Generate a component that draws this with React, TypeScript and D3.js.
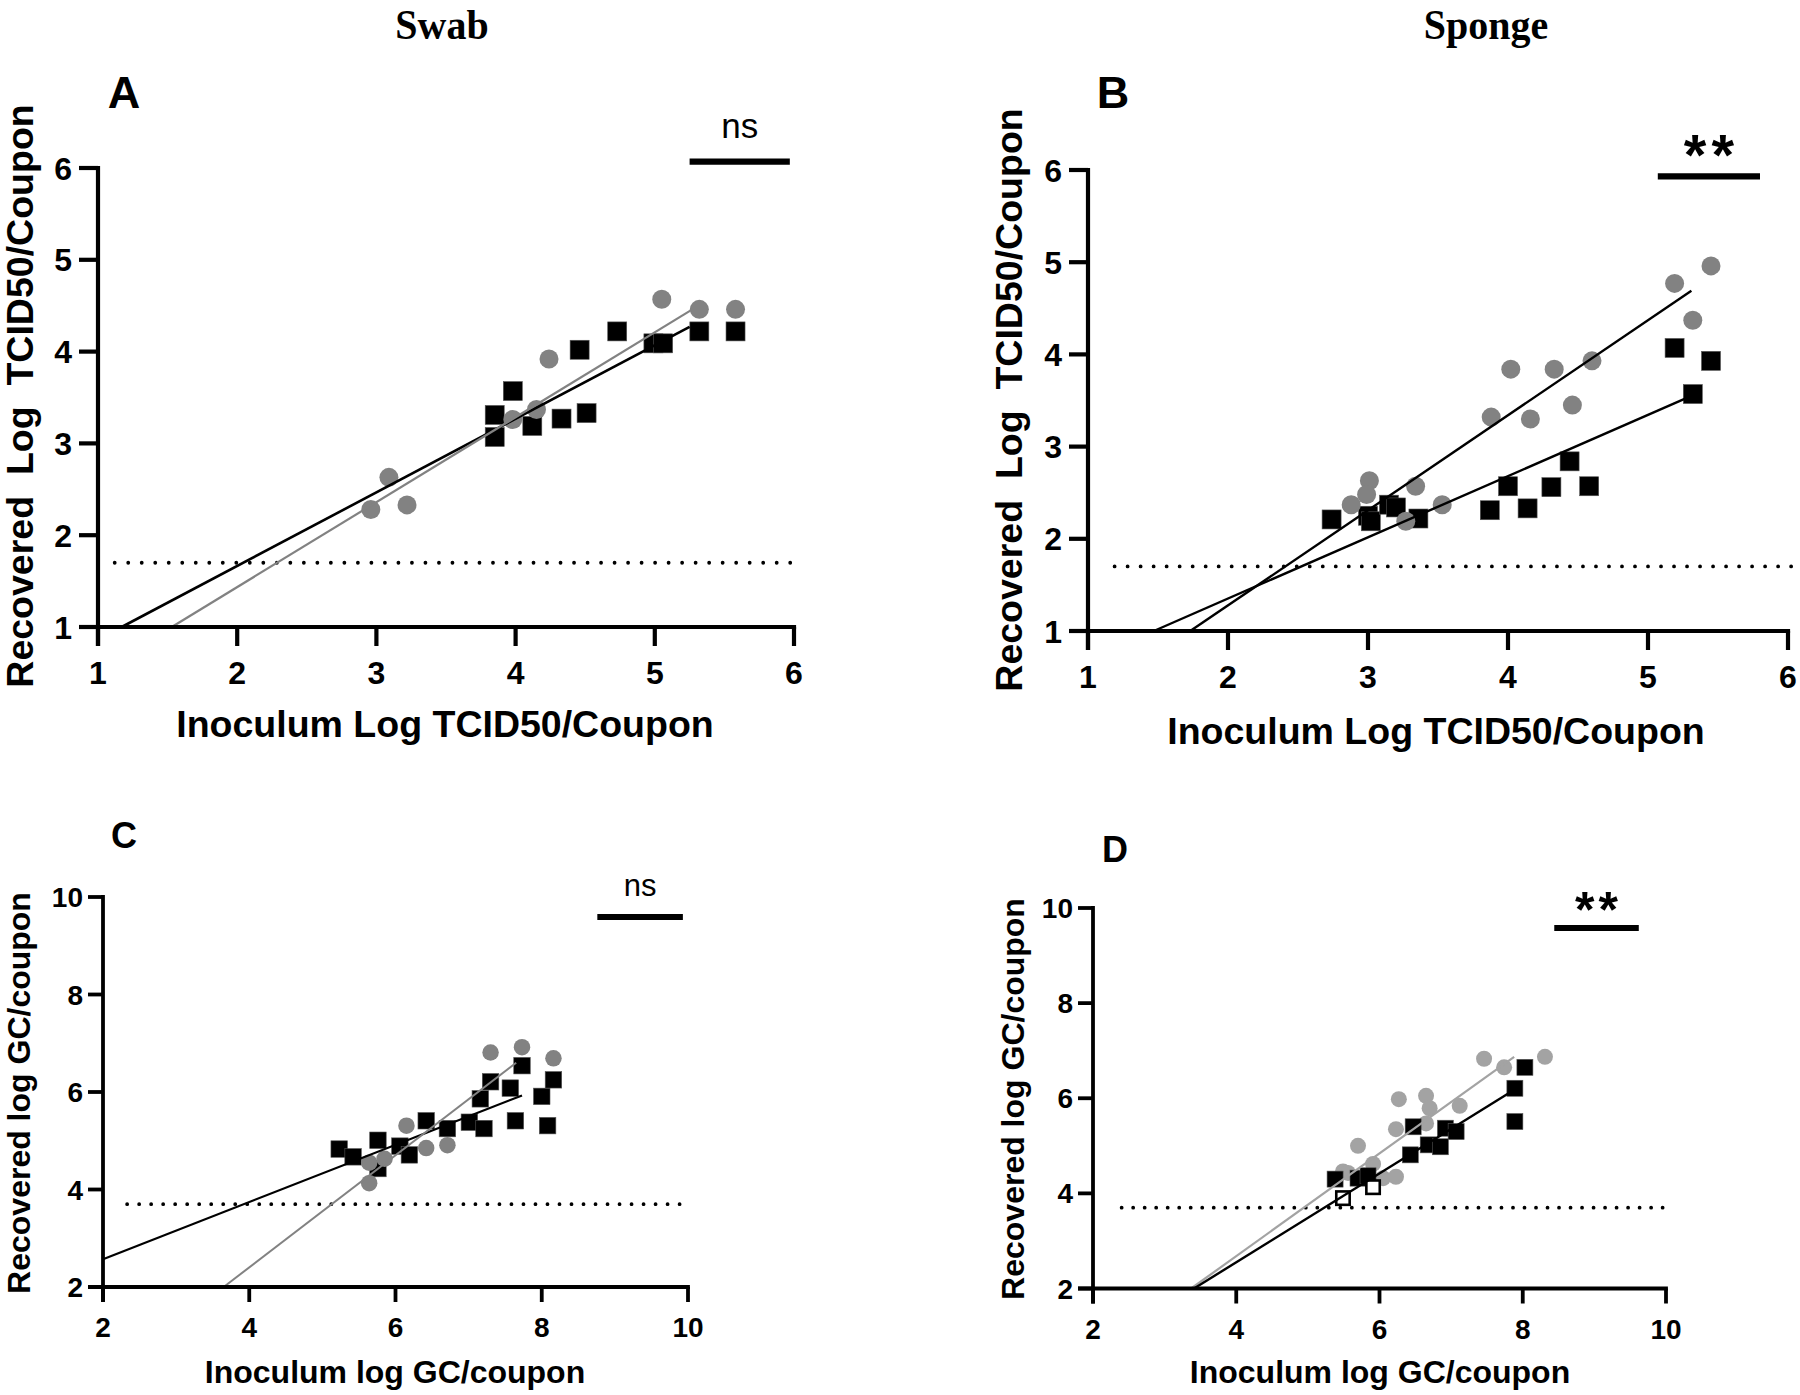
import React from 'react';
import * as d3 from 'd3';

// ---------- Panel A (Swab, TCID50) ----------
const aCirclesX = [2.96, 3.09, 3.22, 3.98, 4.15, 4.24, 5.05, 5.32, 5.58];
const aCirclesY = [2.28, 2.63, 2.33, 3.26, 3.37, 3.92, 4.57, 4.46, 4.46];
const aSquaresX = [3.85, 3.85, 3.98, 4.12, 4.33, 4.51, 4.46, 4.73, 4.99, 5.06, 5.32, 5.58];
const aSquaresY = [3.07, 3.31, 3.57, 3.19, 3.27, 3.33, 4.02, 4.22, 4.09, 4.09, 4.22, 4.22];
const aFitSquares = [[1.17, 1.0], [5.25, 4.27]];
const aFitCircles = [[1.53, 1.0], [5.27, 4.46]];

// ---------- Panel B (Sponge, TCID50) ----------
const bCirclesX = [2.88, 3.01, 2.99, 3.34, 3.27, 3.53, 3.88, 4.02, 4.16, 4.33, 4.46, 4.6, 5.19, 5.32, 5.45];
const bCirclesY = [2.37, 2.63, 2.48, 2.57, 2.19, 2.37, 3.32, 3.84, 3.3, 3.84, 3.45, 3.93, 4.77, 4.37, 4.96];
const bSquaresX = [2.74, 3.0, 3.02, 3.15, 3.2, 3.36, 3.87, 4.0, 4.14, 4.31, 4.44, 4.58, 5.19, 5.32, 5.45];
const bSquaresY = [2.21, 2.25, 2.19, 2.37, 2.34, 2.22, 2.31, 2.57, 2.33, 2.56, 2.84, 2.57, 4.07, 3.57, 3.93];
const bFitCircles = [[1.73, 1.0], [5.31, 4.69]];
const bFitSquares = [[1.47, 1.0], [5.31, 3.55]];

// ---------- Panel C (Swab, GC) ----------
const cCirclesX = [5.64, 5.64, 5.85, 6.15, 6.42, 6.71, 7.3, 7.73, 8.16];
const cCirclesY = [4.13, 4.55, 4.63, 5.31, 4.85, 4.91, 6.81, 6.92, 6.69];
const cSquaresX = [5.23, 5.42, 5.76, 5.76, 6.06, 6.19, 6.42, 6.71, 7.01, 7.21, 7.16, 7.3, 7.57, 7.64, 7.73, 8.0, 8.08, 8.16];
const cSquaresY = [4.83, 4.67, 4.43, 5.01, 4.89, 4.71, 5.41, 5.25, 5.38, 5.25, 5.86, 6.21, 6.08, 5.41, 6.54, 5.91, 5.31, 6.25];
const cFitSquares = [[2.0, 2.57], [7.73, 5.93]];
const cFitCircles = [[3.65, 2.0], [7.65, 6.6]];

// ---------- Panel D (Sponge, GC) ----------
const dCirclesX = [5.49, 5.56, 5.7, 5.91, 6.05, 6.23, 6.23, 6.27, 6.65, 6.7, 6.65, 7.12, 7.46, 7.74, 8.31];
const dCirclesY = [4.46, 4.43, 5.0, 4.62, 4.32, 4.35, 5.35, 5.98, 6.05, 5.79, 5.47, 5.84, 6.83, 6.65, 6.87];
const dSquaresX = [5.38, 5.7, 5.84, 6.43, 6.47, 6.68, 6.85, 6.92, 7.07, 7.89, 7.89, 8.03];
const dSquaresY = [4.3, 4.32, 4.37, 4.81, 5.4, 5.02, 4.98, 5.37, 5.3, 5.51, 6.21, 6.65];
const dOpenX = [5.49, 5.91];
const dOpenY = [3.9, 4.13];
const dFitCircles = [[3.37, 2.0], [7.88, 6.87]];
const dFitSquares = [[3.41, 2.0], [7.82, 6.12]];

// ---------- Axes / annotations ----------
const tcidTicks = [1, 2, 3, 4, 5, 6];
const gcTicks = [2, 4, 6, 8, 10];
const tcidLOD = 1.7;
const gcLOD = 3.7;
const columnTitles = ['Swab', 'Sponge'];
const panelLetters = ['A', 'B', 'C', 'D'];
const significance = ['ns', '**', 'ns', '**'];
const tcidXLabel = 'Inoculum Log TCID50/Coupon';
const tcidYLabel = 'Recovered  Log  TCID50/Coupon';
const gcXLabel = 'Inoculum log GC/coupon';
const gcYLabel = 'Recovered log GC/coupon';

const SANS = '"Liberation Sans", Arial, Helvetica, sans-serif';
const SERIF = '"Liberation Serif", "Times New Roman", serif';

type Series = { xs: number[]; ys: number[]; kind: 'circle' | 'square' | 'open'; color: string };
type Fit = { pts: number[][]; color: string; width: number };

type PanelProps = {
  xDomain: [number, number];
  yDomain: [number, number];
  xRange: [number, number];
  yRange: [number, number];
  ticks: number[];
  tickFont: number;
  tickLen: number;
  xTickBaseline: number;
  yTickGap: number;
  axisWidth: number;
  series: Series[];
  fits: Fit[];
  lod: number;
  lodX: [number, number];
  dotGap: number;
  marker: number;
  sigBar: [number, number, number];
  sigText: string;
  sigFont: number;
  sigWeight: string;
  sigOffset: number;
  sigSpacing: number;
  letter: string;
  letterPos: [number, number];
  letterFont: number;
  xLabel: string;
  xLabelPos: [number, number];
  yLabel: string;
  yLabelPos: [number, number];
  labelFont: number;
};

function Panel(p: PanelProps) {
  const x = d3.scaleLinear().domain(p.xDomain).range(p.xRange);
  const y = d3.scaleLinear().domain(p.yDomain).range(p.yRange);
  const line = d3.line<number[]>().x((d) => x(d[0])).y((d) => y(d[1]));
  const x0 = p.xRange[0];
  const y0 = p.yRange[0];
  const half = p.marker / 2;
  return (
    <g>
      {/* LOD dotted line */}
      <line
        x1={x(p.lodX[0])}
        x2={x(p.lodX[1])}
        y1={y(p.lod)}
        y2={y(p.lod)}
        stroke="#000"
        strokeWidth={3.8}
        strokeLinecap="round"
        strokeDasharray={`0.01 ${p.dotGap}`}
      />
      {/* markers */}
      {p.series.map((s, si) =>
        s.xs.map((xv, i) => {
          const cx = x(xv);
          const cy = y(s.ys[i]);
          if (s.kind === 'circle')
            return <circle key={`${si}-${i}`} cx={cx} cy={cy} r={half} fill={s.color} />;
          if (s.kind === 'square')
            return (
              <rect key={`${si}-${i}`} x={cx - half} y={cy - half} width={p.marker} height={p.marker} fill={s.color} stroke="#555" strokeWidth={0.6} />
            );
          return (
            <rect key={`${si}-${i}`} x={cx - half + 1.3} y={cy - half + 1.3} width={p.marker - 2.6} height={p.marker - 2.6} fill="#fff" stroke={s.color} strokeWidth={2.6} />
          );
        })
      )}
      {/* regression lines */}
      {p.fits.map((f, i) => (
        <path key={i} d={line(f.pts) || ''} fill="none" stroke={f.color} strokeWidth={f.width} />
      ))}
      {/* axes */}
      <line x1={x0 - p.tickLen} x2={p.xRange[1] + p.axisWidth / 2} y1={y0} y2={y0} stroke="#000" strokeWidth={p.axisWidth} />
      <line x1={x0} x2={x0} y1={y0 + p.tickLen} y2={p.yRange[1] - p.axisWidth / 2} stroke="#000" strokeWidth={p.axisWidth} />
      {p.ticks.map((t) => (
        <g key={`x${t}`}>
          <line x1={x(t)} x2={x(t)} y1={y0} y2={y0 + p.tickLen} stroke="#000" strokeWidth={p.axisWidth} />
          <text x={x(t)} y={y0 + p.xTickBaseline} textAnchor="middle" fontFamily={SANS} fontWeight="bold" fontSize={p.tickFont}>
            {t}
          </text>
        </g>
      ))}
      {p.ticks.map((t) => (
        <g key={`y${t}`}>
          <line x1={x0 - p.tickLen} x2={x0} y1={y(t)} y2={y(t)} stroke="#000" strokeWidth={p.axisWidth} />
          <text x={x0 - p.yTickGap} y={y(t) + p.tickFont * 0.36} textAnchor="end" fontFamily={SANS} fontWeight="bold" fontSize={p.tickFont}>
            {t}
          </text>
        </g>
      ))}
      {/* significance */}
      <line x1={x(p.sigBar[0])} x2={x(p.sigBar[1])} y1={y(p.sigBar[2])} y2={y(p.sigBar[2])} stroke="#000" strokeWidth={6.2} />
      <text
        x={(x(p.sigBar[0]) + x(p.sigBar[1])) / 2 + p.sigSpacing / 2}
        y={y(p.sigBar[2]) - p.sigOffset}
        textAnchor="middle"
        fontFamily={SANS}
        fontWeight={p.sigWeight}
        fontSize={p.sigFont}
        letterSpacing={p.sigSpacing}
      >
        {p.sigText}
      </text>
      {/* letter */}
      <text x={p.letterPos[0]} y={p.letterPos[1]} textAnchor="middle" fontFamily={SANS} fontWeight="bold" fontSize={p.letterFont}>
        {p.letter}
      </text>
      {/* axis titles */}
      <text x={p.xLabelPos[0]} y={p.xLabelPos[1]} textAnchor="middle" fontFamily={SANS} fontWeight="bold" fontSize={p.labelFont} style={{ whiteSpace: 'pre' }}>
        {p.xLabel}
      </text>
      <text
        transform={`translate(${p.yLabelPos[0]},${p.yLabelPos[1]}) rotate(-90)`}
        textAnchor="middle"
        fontFamily={SANS}
        fontWeight="bold"
        fontSize={p.labelFont}
        style={{ whiteSpace: 'pre' }}
      >
        {p.yLabel}
      </text>
    </g>
  );
}

const GRAY = '#828282';
const LIGHT = '#a3a3a3';

export default function App() {
  return (
    <svg width={1800} height={1395} style={{ position: 'absolute', left: 0, top: 0, background: '#fff' }}>
      <rect width={1800} height={1395} fill="#fff" />
      <text transform="translate(442,39) scale(0.93,1)" textAnchor="middle" fontFamily={SERIF} fontWeight="bold" fontSize={43}>
        {columnTitles[0]}
      </text>
      <text transform="translate(1486,39) scale(0.93,1)" textAnchor="middle" fontFamily={SERIF} fontWeight="bold" fontSize={43}>
        {columnTitles[1]}
      </text>

      <Panel
        xDomain={[1, 6]}
        yDomain={[1, 6]}
        xRange={[98, 794]}
        yRange={[627, 168]}
        ticks={tcidTicks}
        tickFont={32}
        tickLen={19}
        xTickBaseline={57}
        yTickGap={26}
        axisWidth={4.2}
        series={[
          { xs: aSquaresX, ys: aSquaresY, kind: 'square', color: '#000' },
          { xs: aCirclesX, ys: aCirclesY, kind: 'circle', color: GRAY },
        ]}
        fits={[
          { pts: aFitSquares, color: '#000', width: 2.6 },
          { pts: aFitCircles, color: GRAY, width: 2.2 },
        ]}
        lod={tcidLOD}
        lodX={[1.12, 6.0]}
        dotGap={13.5}
        marker={19}
        sigBar={[5.25, 5.97, 6.07]}
        sigText={significance[0]}
        sigFont={35}
        sigWeight="normal"
        sigOffset={24}
        sigSpacing={0}
        letter={panelLetters[0]}
        letterPos={[124, 108]}
        letterFont={45}
        xLabel={tcidXLabel}
        xLabelPos={[445, 737]}
        yLabel={tcidYLabel}
        yLabelPos={[33, 396]}
        labelFont={37.5}
      />

      <Panel
        xDomain={[1, 6]}
        yDomain={[1, 6]}
        xRange={[1088, 1788]}
        yRange={[631, 170]}
        ticks={tcidTicks}
        tickFont={32}
        tickLen={19}
        xTickBaseline={57}
        yTickGap={26}
        axisWidth={4.2}
        series={[
          { xs: bSquaresX, ys: bSquaresY, kind: 'square', color: '#000' },
          { xs: bCirclesX, ys: bCirclesY, kind: 'circle', color: GRAY },
        ]}
        fits={[
          { pts: bFitCircles, color: '#000', width: 2.4 },
          { pts: bFitSquares, color: '#000', width: 2.4 },
        ]}
        lod={tcidLOD}
        lodX={[1.19, 6.03]}
        dotGap={13}
        marker={19}
        sigBar={[5.07, 5.8, 5.93]}
        sigText={significance[1]}
        sigFont={58}
        sigWeight="bold"
        sigOffset={1.5}
        sigSpacing={5}
        letter={panelLetters[1]}
        letterPos={[1113, 108]}
        letterFont={45}
        xLabel={tcidXLabel}
        xLabelPos={[1436, 744]}
        yLabel={tcidYLabel}
        yLabelPos={[1022, 400]}
        labelFont={37.5}
      />

      <Panel
        xDomain={[2, 10]}
        yDomain={[2, 10]}
        xRange={[103, 688]}
        yRange={[1287, 897]}
        ticks={gcTicks}
        tickFont={28}
        tickLen={15}
        xTickBaseline={50}
        yTickGap={20}
        axisWidth={3.8}
        series={[
          { xs: cSquaresX, ys: cSquaresY, kind: 'square', color: '#000' },
          { xs: cCirclesX, ys: cCirclesY, kind: 'circle', color: GRAY },
        ]}
        fits={[
          { pts: cFitSquares, color: '#000', width: 2.2 },
          { pts: cFitCircles, color: GRAY, width: 2 },
        ]}
        lod={gcLOD}
        lodX={[2.33, 10.04]}
        dotGap={12}
        marker={16.5}
        sigBar={[8.76, 9.93, 9.59]}
        sigText={significance[2]}
        sigFont={31}
        sigWeight="normal"
        sigOffset={21}
        sigSpacing={0}
        letter={panelLetters[2]}
        letterPos={[124, 848]}
        letterFont={36}
        xLabel={gcXLabel}
        xLabelPos={[395, 1383]}
        yLabel={gcYLabel}
        yLabelPos={[30, 1093]}
        labelFont={32}
      />

      <Panel
        xDomain={[2, 10]}
        yDomain={[2, 10]}
        xRange={[1093, 1666]}
        yRange={[1288.5, 908]}
        ticks={gcTicks}
        tickFont={28}
        tickLen={15}
        xTickBaseline={50}
        yTickGap={20}
        axisWidth={3.8}
        series={[
          { xs: dCirclesX, ys: dCirclesY, kind: 'circle', color: LIGHT },
          { xs: dSquaresX, ys: dSquaresY, kind: 'square', color: '#000' },
          { xs: dOpenX, ys: dOpenY, kind: 'open', color: '#000' },
        ]}
        fits={[
          { pts: dFitCircles, color: LIGHT, width: 2.2 },
          { pts: dFitSquares, color: '#000', width: 2.4 },
        ]}
        lod={gcLOD}
        lodX={[2.4, 10.05]}
        dotGap={11.5}
        marker={16}
        sigBar={[8.44, 9.62, 9.58]}
        sigText={significance[3]}
        sigFont={50}
        sigWeight="bold"
        sigOffset={1}
        sigSpacing={4}
        letter={panelLetters[3]}
        letterPos={[1115, 862]}
        letterFont={36}
        xLabel={gcXLabel}
        xLabelPos={[1380, 1383]}
        yLabel={gcYLabel}
        yLabelPos={[1024, 1099]}
        labelFont={32}
      />
    </svg>
  );
}
